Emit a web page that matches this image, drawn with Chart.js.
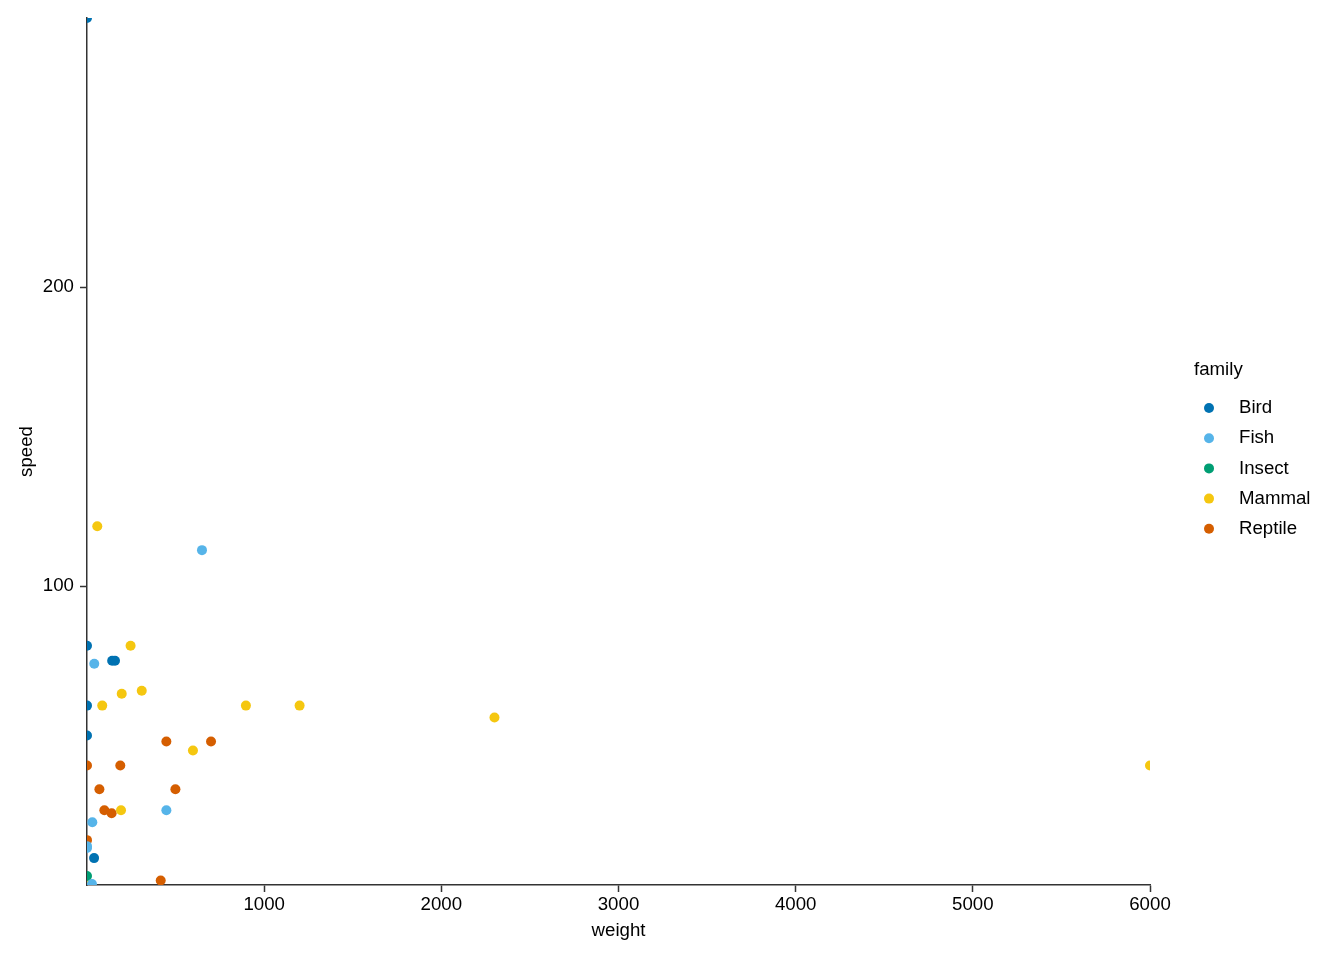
<!DOCTYPE html>
<html>
<head>
<meta charset="utf-8">
<script src="https://cdn.jsdelivr.net/npm/chart.js@4"></script>
<style>
  body { margin: 0; background: #fff; }
</style>
</head>
<body>
<canvas id="chart" width="1344" height="960"></canvas>
<script>
// ===== DATA =====
const families = ["Bird", "Fish", "Insect", "Mammal", "Reptile"];
const colors = ["#0072B2", "#56B4E9", "#009E73", "#F5C710", "#D55E00"];

const birdWeight = [0, 0, 0, 0, 40, 142, 158];
const birdSpeed = [290, 80, 60, 50, 9, 75, 75];

const fishWeight = [41, 649, 448, 30, 0, 0, 28];
const fishSpeed = [74, 112, 25, 21, 13, 12.4, 0.3];

const insectWeight = [0];
const insectSpeed = [3];

const mammalWeight = [58, 246, 196, 309, 86, 897, 1200, 2300, 598, 192, 6000, 0];
const mammalSpeed = [120, 80, 64, 65, 60, 60, 60, 56, 45, 25, 40, 1];

const reptileWeight = [0, 188, 448, 700, 70, 499, 98, 139, 0, 416];
const reptileSpeed = [40, 40, 48, 48, 32, 32, 25, 24, 15, 1.5];

const xTicks = [1000, 2000, 3000, 4000, 5000, 6000];
const yTicks = [100, 200];

const FONT = "'Liberation Sans', Arial, sans-serif";
const FS = 18.67;

function toPoints(xs, ys) {
  return xs.map((x, i) => ({ x: x, y: ys[i] }));
}

const seriesX = [birdWeight, fishWeight, insectWeight, mammalWeight, reptileWeight];
const seriesY = [birdSpeed, fishSpeed, insectSpeed, mammalSpeed, reptileSpeed];

const datasets = families.map((name, i) => ({
  label: name,
  data: toPoints(seriesX[i], seriesY[i]),
  backgroundColor: colors[i],
  borderWidth: 0,
  pointRadius: 5,
  pointHoverRadius: 5,
  clip: 0
}));

// legend drawn by hand, ggplot style
const sideLegend = {
  id: "sideLegend",
  afterDraw(chart) {
    const ctx = chart.ctx;
    ctx.save();
    ctx.fillStyle = "#000";
    ctx.font = FS + "px " + FONT;
    ctx.textBaseline = "middle";
    ctx.textAlign = "left";
    ctx.fillText("family", 1194, 370);
    chart.data.datasets.forEach((ds, i) => {
      const y = 408 + i * 30.2;
      ctx.beginPath();
      ctx.arc(1209, y, 5, 0, Math.PI * 2);
      ctx.fillStyle = ds.backgroundColor;
      ctx.fill();
      ctx.fillStyle = "#000";
      ctx.fillText(ds.label, 1239, y);
    });
    ctx.restore();
  }
};

// CHART
new Chart(document.getElementById("chart"), {
  type: "scatter",
  data: { datasets: datasets },
  plugins: [sideLegend],
  options: {
    responsive: false,
    animation: false,
    layout: { padding: { left: 0, right: 194, top: 18, bottom: 0 } },
    plugins: {
      legend: { display: false },
      tooltip: { enabled: false }
    },
    scales: {
      x: {
        type: "linear",
        min: 0,
        max: 6000,
        afterFit(scale) { scale.height = 75; },
        afterBuildTicks(scale) { scale.ticks = xTicks.map(v => ({ value: v })); },
        border: { display: true, color: "#333", width: 1.5 },
        grid: { drawOnChartArea: false, drawTicks: true, tickLength: 7, color: "#333", tickWidth: 1.5 },
        ticks: { color: "#000", font: { family: FONT, size: FS }, padding: 1.5, maxRotation: 0,
                 callback: v => String(v) },
        title: { display: true, text: "weight", color: "#000", font: { family: FONT, size: FS }, padding: { top: 0, bottom: 18 } }
      },
      y: {
        type: "linear",
        min: 0,
        max: 290,
        afterFit(scale) { scale.width = 87; },
        afterBuildTicks(scale) { scale.ticks = yTicks.map(v => ({ value: v })); },
        border: { display: true, color: "#333", width: 1.5 },
        grid: { drawOnChartArea: false, drawTicks: true, tickLength: 7, color: "#333", tickWidth: 1.5 },
        ticks: { color: "#000", font: { family: FONT, size: FS }, padding: 6,
                 callback: v => String(v) },
        title: { display: true, text: "speed", color: "#000", font: { family: FONT, size: FS }, padding: { top: 16, bottom: 0 } }
      }
    }
  }
});
</script>
</body>
</html>
